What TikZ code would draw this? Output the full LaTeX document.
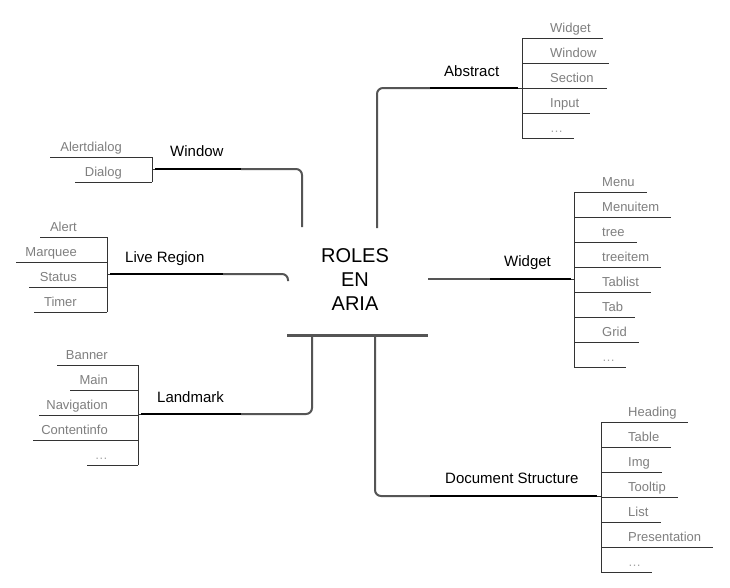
\documentclass[tikz,border=0pt]{standalone}
\usepackage{fontspec}
\setmainfont{Liberation Sans}
\definecolor{leafgray}{HTML}{7F7F7F}
\definecolor{linegray}{HTML}{555555}
\definecolor{leafline}{HTML}{333333}
\newcommand\ddd{{\color{leafgray!70}\ldots}}
\newcommand\rleaves[5]{% prefix, bracket x, text x, top y, list text/endx
  \foreach \t/\e [count=\i from 0] in {#5} {
    \pgfmathsetmacro\yy{#4+25*\i}
    \coordinate (#1a\i) at (#2,\yy);
    \coordinate (#1b\i) at (\e,\yy);
    \draw[tick] (#1a\i) -- (#1b\i);
    \node[leaf, anchor=base west] (#1\i) at (#3,\yy-6) {\t};
    \xdef\lastidx{\i}
  }
  \draw[tick] (#1a0) -- (#1a\lastidx);
}
\newcommand\lleaves[5]{% prefix, bracket x, text right x, top y, list text/startx
  \foreach \t/\e [count=\i from 0] in {#5} {
    \pgfmathsetmacro\yy{#4+25*\i}
    \coordinate (#1a\i) at (#2,\yy);
    \coordinate (#1b\i) at (\e,\yy);
    \draw[tick] (#1a\i) -- (#1b\i);
    \node[leaf, anchor=base east] (#1\i) at (#3,\yy-6) {\t};
    \xdef\lastidx{\i}
  }
  \draw[tick] (#1a0) -- (#1a\lastidx);
}
\begin{document}
\begin{tikzpicture}[x=1pt,y=-1pt,
  leaf/.style={font=\fontsize{13}{15}\selectfont, text=leafgray, inner sep=0pt},
  lbl/.style={font=\fontsize{15}{18}\selectfont, inner sep=0pt, anchor=base west},
  br/.style={draw=linegray, line width=2pt, rounded corners=6pt},
  brk/.style={draw=black, line width=2pt},
  tick/.style={draw=leafline, line width=0.8pt},
  bar/.style={draw=linegray, line width=3pt}]
\useasboundingbox[fill=white] (0,0) rectangle (730,587);

% central node
\node[align=center, inner sep=0pt, font=\fontsize{20}{24}\selectfont] (root) at (355,280) {ROLES\\EN\\ARIA};
\coordinate (barL) at (287,335);
\coordinate (barR) at (428,335);
\draw[bar] (barL) -- (barR);

% Abstract
\coordinate (abs0s) at (377,228);
\coordinate (abs0c) at (377,88);
\coordinate (abs0m) at (430,88);
\coordinate (abs0e) at (518,88);
\draw[br] (abs0s) -- (abs0c) -- (abs0m);
\draw[brk] (abs0m) -- (abs0e);
\node[lbl] (abstract) at (444,76) {Abstract};
\rleaves{ab}{522}{550}{38}{Widget/603,Window/609,Section/607,Input/590,\ddd/574}
\draw[tick] (abs0e) -- (aba2);

% Widget
\coordinate (wid0s) at (428,279);
\coordinate (wid0m) at (490,279);
\coordinate (wid0e) at (571,279);
\draw[br] (wid0s) -- (wid0m);
\draw[brk] (wid0m) -- (wid0e);
\node[lbl] (widget) at (504,266) {Widget};
\rleaves{wi}{574}{602}{192}{Menu/647,Menuitem/671,tree/637,treeitem/661,Tablist/651,Tab/635,Grid/639,\ddd/626}
\coordinate (wijoin) at (574,279);
\draw[tick] (wid0e) -- (wijoin);

% Document Structure
\coordinate (doc0s) at (375,336);
\coordinate (doc0c) at (375,496);
\coordinate (doc0m) at (430,496);
\coordinate (doc0e) at (597,496);
\draw[br] (doc0s) -- (doc0c) -- (doc0m);
\draw[brk] (doc0m) -- (doc0e);
\node[lbl] (docstruct) at (445,483) {Document Structure};
\rleaves{do}{601}{628}{422}{Heading/688,Table/671,Img/662,Tooltip/678,List/661,Presentation/713,\ddd/652}
\coordinate (dojoin) at (601,496);
\draw[tick] (doc0e) -- (dojoin);

% Window
\coordinate (win0s) at (302,227);
\coordinate (win0c) at (302,169);
\coordinate (win0m) at (241,169);
\coordinate (win0e) at (155,169);
\draw[br] (win0s) -- (win0c) -- (win0m);
\draw[brk] (win0m) -- (win0e);
\node[lbl] (window) at (170,156) {Window};
\lleaves{wn}{152}{122}{157}{Alertdialog/50,Dialog/75}
\coordinate (wnjoin) at (152,169);
\draw[tick] (win0e) -- (wnjoin);

% Live Region
\coordinate (liv0s) at (288,281);
\coordinate (liv0c) at (288,274);
\coordinate (liv0m) at (223,274);
\coordinate (liv0e) at (110,274);
\draw[br] (liv0s) -- (liv0c) -- (liv0m);
\draw[brk] (liv0m) -- (liv0e);
\node[lbl] (live) at (125,262) {Live Region};
\lleaves{lr}{107}{77}{237}{Alert/40,Marquee/16,Status/29,Timer/34}
\coordinate (lrjoin) at (107,274);
\draw[tick] (liv0e) -- (lrjoin);

% Landmark
\coordinate (lan0s) at (312,336);
\coordinate (lan0c) at (312,414);
\coordinate (lan0m) at (241,414);
\coordinate (lan0e) at (141,414);
\draw[br] (lan0s) -- (lan0c) -- (lan0m);
\draw[brk] (lan0m) -- (lan0e);
\node[lbl] (landmark) at (157,402) {Landmark};
\lleaves{lm}{138}{108}{365}{Banner/57,Main/70,Navigation/39,Contentinfo/33,\ddd/87}
\coordinate (lmjoin) at (138,414);
\draw[tick] (lan0e) -- (lmjoin);
\end{tikzpicture}
\end{document}
